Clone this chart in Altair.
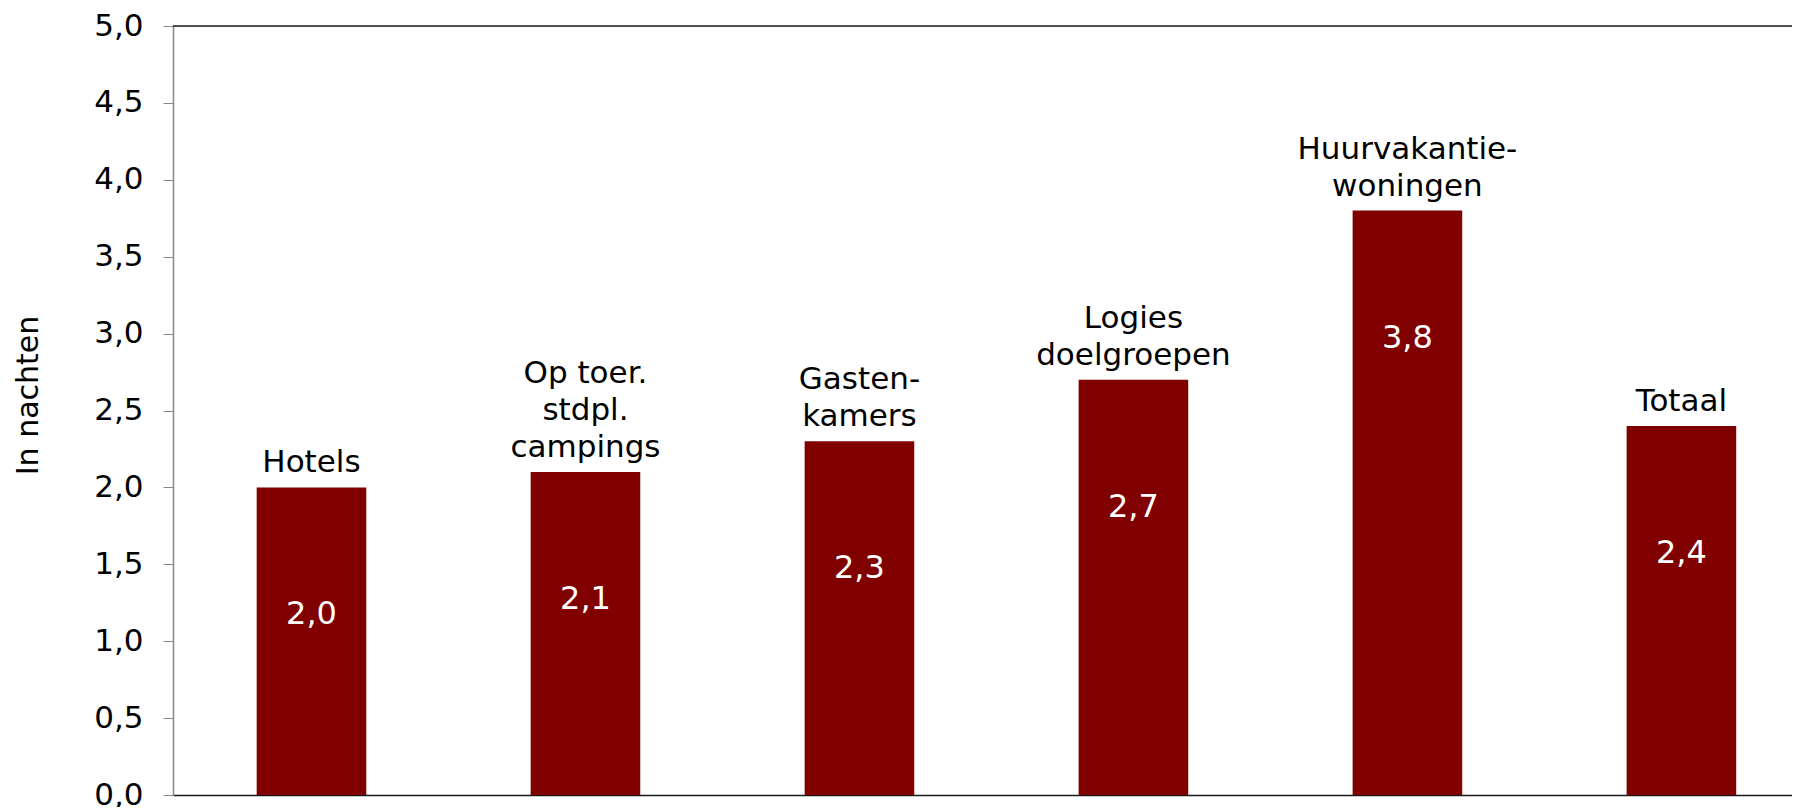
import altair as alt
import pandas as pd

categories = ["Hotels", "Op toer. stdpl. campings", "Gastenkamers", "Logies doelgroepen",
              "Huurvakantiewoningen", "Totaal"]
label_lines = [["Hotels"], ["Op toer.", "stdpl.", "campings"], ["Gasten-", "kamers"],
               ["Logies", "doelgroepen"], ["Huurvakantie-", "woningen"], ["Totaal"]]
values = [2.0, 2.1, 2.3, 2.7, 3.8, 2.4]
y_ticks = [0, 0.5, 1.0, 1.5, 2.0, 2.5, 3.0, 3.5, 4.0, 4.5, 5.0]

df = pd.DataFrame({"cat": categories, "val": values})
df["txt"] = [f"{v:.1f}".replace(".", ",") for v in values]

# one row per label line, k = line index counted from the bottom line
rows = []
for c, v, lines in zip(categories, values, label_lines):
    n = len(lines)
    for i, line in enumerate(lines):
        rows.append({"cat": c, "val": v, "line": line, "k": n - 1 - i})
lab_df = pd.DataFrame(rows)

FONT = "DejaVu Sans"
PLOT_W = 1619
PLOT_H = 769
LINE_H = 37

x = alt.X("cat:N", sort=categories,
          scale=alt.Scale(paddingInner=0.6, paddingOuter=0.2545, align=0.6),
          axis=alt.Axis(title=None, labels=False, ticks=False, domainColor="#1a1a1a",
                        domainWidth=1.5))
y = alt.Y("val:Q", scale=alt.Scale(domain=[0, 5], nice=False, zero=True),
          axis=alt.Axis(values=y_ticks, title="In nachten", grid=False,
                        labelExpr="replace(format(datum.value, '.1f'), '.', ',')",
                        labelFont=FONT, labelFontSize=31, labelColor="#000000",
                        labelPadding=20, tickSize=10, tickColor="#888888",
                        domainColor="#888888", domainWidth=1.5,
                        titleFont=FONT, titleFontSize=30, titleFontWeight="normal",
                        titleColor="#000000", titleAngle=-90, titleAlign="center",
                        titleBaseline="middle", titleX=-145, titleY=369))

base = alt.Chart(df)

bars = base.mark_bar(color="#800000").encode(x=x, y=y)

cat_layers = []
for k in range(3):
    cat_layers.append(
        alt.Chart(lab_df).transform_filter(alt.datum.k == k)
        .mark_text(font=FONT, fontSize=31, color="#000000", baseline="alphabetic",
                   align="center", dy=-15 - LINE_H * k)
        .encode(x=alt.X("cat:N", sort=categories), y="val:Q", text="line:N")
    )

val_text = base.mark_text(font=FONT, fontSize=32, color="#ffffff", baseline="middle",
                          align="center", dy=127).encode(
    x=alt.X("cat:N", sort=categories), y="val:Q", text="txt:N")

top_rule = alt.Chart(pd.DataFrame({"v": [5]})).mark_rule(color="#1a1a1a", strokeWidth=1.5).encode(
    y=alt.Y("v:Q"))

chart = alt.layer(bars, *cat_layers, val_text, top_rule).properties(
    width=PLOT_W, height=PLOT_H,
    autosize=alt.AutoSizeParams(type="none"),
    padding={"left": 165, "top": 18, "right": 0, "bottom": 12},
).configure_view(stroke=None).configure(background="#ffffff")

chart.save("out.html", embed_options={"renderer": "svg", "actions": False})
